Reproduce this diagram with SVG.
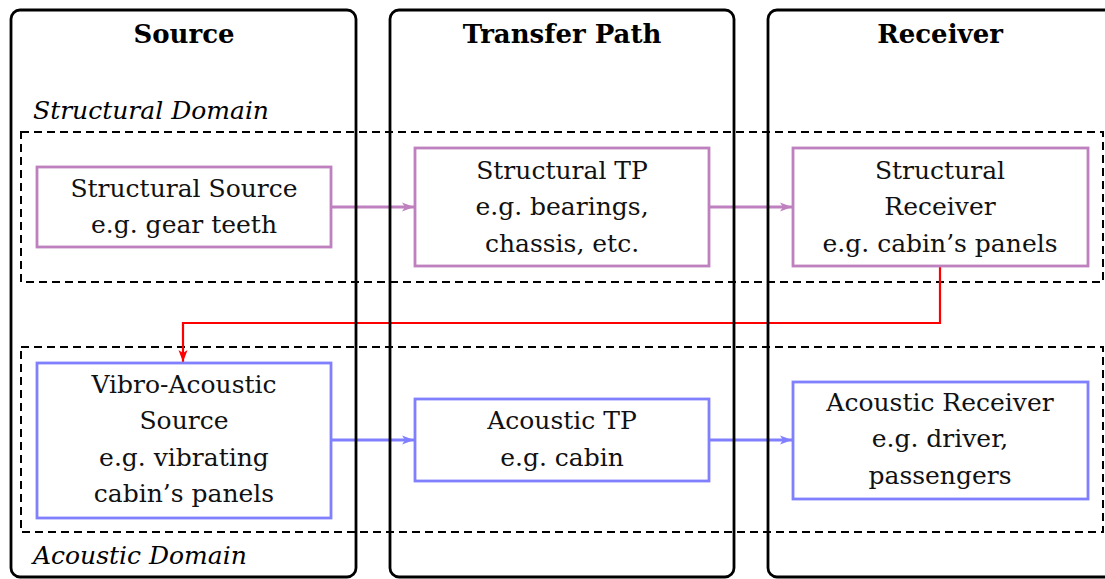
<svg xmlns="http://www.w3.org/2000/svg" width="1105" height="579" viewBox="0 0 1105 579">
<style>
.col{fill:none;stroke:#000;stroke-width:2.8}
.dom{fill:none;stroke:#000;stroke-width:2;stroke-dasharray:8 5}
.hd{font-family:"DejaVu Serif",serif;font-weight:bold;font-size:26px;fill:#000;text-anchor:middle}
.it{font-family:"DejaVu Serif",serif;font-style:italic;font-size:25px;fill:#000}
.tx{font-family:"DejaVu Serif",serif;font-size:25px;fill:#111;text-anchor:middle}
.sn{fill:#fff;stroke:#BF80BF;stroke-width:2.8}
.an{fill:#fff;stroke:#8080FF;stroke-width:2.8}
.sa{fill:none;stroke:#BF80BF;stroke-width:2.8}
.aa{fill:none;stroke:#8080FF;stroke-width:2.8}
.ra{fill:none;stroke:#FF0000;stroke-width:2.2}
</style>
<defs>
<marker id="mp" markerWidth="14" markerHeight="12" refX="12" refY="6" orient="auto" markerUnits="userSpaceOnUse"><path d="M0,1.5 L12,6 L0,10.5 L3,6 Z" fill="#BF80BF"/></marker>
<marker id="mb" markerWidth="14" markerHeight="12" refX="12" refY="6" orient="auto" markerUnits="userSpaceOnUse"><path d="M0,1.5 L12,6 L0,10.5 L3,6 Z" fill="#8080FF"/></marker>
<marker id="mr" markerWidth="14" markerHeight="12" refX="12" refY="6" orient="auto" markerUnits="userSpaceOnUse"><path d="M0,1.5 L12,6 L0,10.5 L3,6 Z" fill="#FF0000"/></marker>
</defs>
<rect width="1105" height="579" fill="#fff"/>
<g id="domains">
<rect class="dom" x="21" y="132" width="1082" height="150"/>
<rect class="dom" x="21" y="347" width="1082" height="185"/>
<text class="it" x="33" y="119">Structural Domain</text>
<text class="it" x="33" y="564">Acoustic Domain</text>
</g>
<g id="connectors">
<line class="sa" x1="331" y1="207" x2="414" y2="207" marker-end="url(#mp)"/>
<line class="sa" x1="709" y1="207" x2="792" y2="207" marker-end="url(#mp)"/>
<line class="aa" x1="331" y1="440" x2="414" y2="440" marker-end="url(#mb)"/>
<line class="aa" x1="709" y1="440" x2="792" y2="440" marker-end="url(#mb)"/>
<path class="ra" d="M940,266 V323 H183 V362" marker-end="url(#mr)"/>
</g>
<g id="col-source">
<rect class="col" x="11" y="10" width="345" height="567" rx="9"/>
<text class="hd" x="184" y="43">Source</text>
</g>
<g id="col-transfer">
<rect class="col" x="390" y="10" width="344" height="567" rx="9"/>
<text class="hd" x="562" y="43">Transfer Path</text>
</g>
<g id="col-receiver">
<rect class="col" x="768" y="10" width="350" height="567" rx="9"/>
<text class="hd" x="940" y="43">Receiver</text>
</g>
<g id="structural-source">
<rect class="sn" x="37" y="167" width="294" height="80"/>
<text class="tx" x="184" y="197">Structural Source</text>
<text class="tx" x="184" y="233">e.g. gear teeth</text>
</g>
<g id="structural-tp">
<rect class="sn" x="415" y="148" width="294" height="118"/>
<text class="tx" x="562" y="179">Structural TP</text>
<text class="tx" x="562" y="215">e.g. bearings,</text>
<text class="tx" x="562" y="252">chassis, etc.</text>
</g>
<g id="structural-receiver">
<rect class="sn" x="793" y="148" width="295" height="118"/>
<text class="tx" x="940" y="179">Structural</text>
<text class="tx" x="940" y="215">Receiver</text>
<text class="tx" x="940" y="252">e.g. cabin’s panels</text>
</g>
<g id="vibro-acoustic-source">
<rect class="an" x="37" y="363" width="294" height="155"/>
<text class="tx" x="184" y="393">Vibro-Acoustic</text>
<text class="tx" x="184" y="429">Source</text>
<text class="tx" x="184" y="466">e.g. vibrating</text>
<text class="tx" x="184" y="502">cabin’s panels</text>
</g>
<g id="acoustic-tp">
<rect class="an" x="415" y="399" width="294" height="82"/>
<text class="tx" x="562" y="429">Acoustic TP</text>
<text class="tx" x="562" y="466">e.g. cabin</text>
</g>
<g id="acoustic-receiver">
<rect class="an" x="793" y="382" width="295" height="117"/>
<text class="tx" x="940" y="411">Acoustic Receiver</text>
<text class="tx" x="940" y="447">e.g. driver,</text>
<text class="tx" x="940" y="484">passengers</text>
</g>
</svg>
